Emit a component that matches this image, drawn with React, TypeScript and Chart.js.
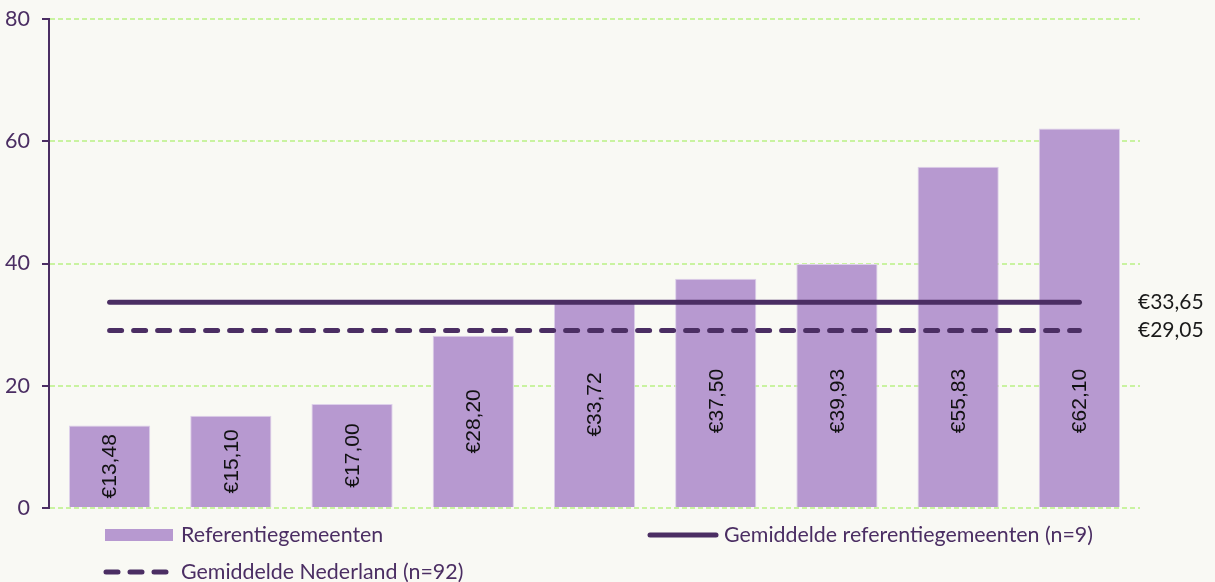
import React, { useEffect, useRef } from "react";
import { Chart, registerables } from "chart.js";

Chart.register(...registerables);

const categories = ["G1", "G2", "G3", "G4", "G5", "G6", "G7", "G8", "G9"];
const values = [13.48, 15.1, 17.0, 28.2, 33.72, 37.5, 39.93, 55.83, 62.1];
const avgReference = 33.65;
const avgNetherlands = 29.05;
const yTicks = [0, 20, 40, 60, 80];
const legendLabels = [
  "Referentiegemeenten",
  "Gemiddelde referentiegemeenten (n=9)",
  "Gemiddelde Nederland (n=92)",
];

const PURPLE_DARK = "#4b2e63";
const BAR = "#b799d0";
const GRID = "#c9f3a0";
const BG = "#f9f9f4";

const euro = (v: number) => "€" + v.toFixed(2).replace(".", ",");

const customPlugin = {
  id: "custom",
  beforeDraw(chart: any) {
    const { ctx } = chart;
    ctx.save();
    ctx.fillStyle = BG;
    ctx.fillRect(0, 0, chart.width, chart.height);
    ctx.restore();
  },
  afterDatasetsDraw(chart: any) {
    const { ctx, chartArea } = chart;
    const yScale = chart.scales.y;
    const meta = chart.getDatasetMeta(0);
    const cap = yScale.getPixelForValue(17.5);
    ctx.save();
    ctx.font = '21px "Liberation Sans"';
    ctx.fillStyle = "#111";
    ctx.textAlign = "center";
    ctx.textBaseline = "middle";
    meta.data.forEach((bar: any, i: number) => {
      const p = bar.getProps(["x", "y", "base"], true);
      const cy = Math.max((p.y + p.base) / 2, cap);
      ctx.save();
      ctx.translate(p.x, cy);
      ctx.rotate(-Math.PI / 2);
      ctx.fillText(euro(values[i]), 0, 1);
      ctx.restore();
    });
    ctx.font = '21px Lato';
    ctx.fillStyle = "#1a1a1a";
    ctx.textAlign = "left";
    ctx.fillText(euro(avgReference), chartArea.right - 2, yScale.getPixelForValue(avgReference));
    ctx.fillText(euro(avgNetherlands), chartArea.right - 2, yScale.getPixelForValue(avgNetherlands));
    ctx.restore();
  },
  afterDraw(chart: any) {
    const { ctx } = chart;
    ctx.save();
    ctx.font = '21.4px Lato';
    ctx.textBaseline = "middle";
    ctx.textAlign = "left";
    // item 1: bar swatch
    ctx.fillStyle = BAR;
    ctx.fillRect(105, 529, 68, 12);
    ctx.fillStyle = PURPLE_DARK;
    ctx.fillText(legendLabels[0], 181, 535);
    // item 2: solid line
    ctx.strokeStyle = PURPLE_DARK;
    ctx.lineWidth = 5;
    ctx.lineCap = "round";
    ctx.beginPath();
    ctx.moveTo(650, 535);
    ctx.lineTo(716, 535);
    ctx.stroke();
    ctx.fillText(legendLabels[1], 724, 535);
    // item 3: dashed line
    ctx.setLineDash([12, 12]);
    ctx.beginPath();
    ctx.moveTo(106, 572);
    ctx.lineTo(166, 572);
    ctx.stroke();
    ctx.setLineDash([]);
    ctx.fillText(legendLabels[2], 181, 572);
    ctx.restore();
  },
};

export default function App() {
  const ref = useRef<HTMLCanvasElement | null>(null);
  useEffect(() => {
    document.body.style.margin = "0";
    document.body.style.background = BG;
    const canvas = ref.current!;
    const chart = new Chart(canvas, {
      type: "bar",
      data: {
        labels: categories,
        datasets: [
          {
            type: "bar",
            label: legendLabels[0],
            data: values,
            backgroundColor: BAR,
            borderColor: "#ddd0ea",
            borderWidth: 1,
            barPercentage: 0.67,
            categoryPercentage: 1,
            order: 2,
          },
          {
            type: "line",
            label: legendLabels[1],
            data: categories.map(() => avgReference),
            borderColor: PURPLE_DARK,
            borderWidth: 5,
            borderCapStyle: "round",
            pointRadius: 0,
            fill: false,
            order: 0,
          },
          {
            type: "line",
            label: legendLabels[2],
            data: categories.map(() => avgNetherlands),
            borderColor: PURPLE_DARK,
            borderWidth: 5,
            borderCapStyle: "round",
            borderDash: [12, 12],
            pointRadius: 0,
            fill: false,
            order: 1,
          },
        ] as any,
      },
      options: {
        animation: false,
        responsive: false,
        maintainAspectRatio: false,
        layout: { padding: { left: 0, right: 75, top: 19, bottom: 74 } },
        plugins: { legend: { display: false }, tooltip: { enabled: false } },
        scales: {
          x: { display: false },
          y: {
            min: 0,
            max: 80,
            afterBuildTicks: (axis: any) => {
              axis.ticks = yTicks.map((v) => ({ value: v }));
            },
            afterFit: (axis: any) => {
              axis.width = 49;
              axis.paddingTop = 0;
              axis.paddingBottom = 0;
            },
            ticks: {
              color: PURPLE_DARK,
              font: { family: "Lato", size: 21.5 },
              padding: 12,
            },
            grid: {
              color: GRID,
              lineWidth: 2,
              tickColor: PURPLE_DARK,
              tickLength: 7,
              tickWidth: 2,
            },
            border: { color: PURPLE_DARK, width: 2, dash: [5, 3] },
          },
        },
      } as any,
      plugins: [customPlugin],
    });
    return () => chart.destroy();
  }, []);
  return (
    <div style={{ width: 1215, height: 582, background: BG }}>
      <canvas ref={ref} width={1215} height={582} />
    </div>
  );
}
